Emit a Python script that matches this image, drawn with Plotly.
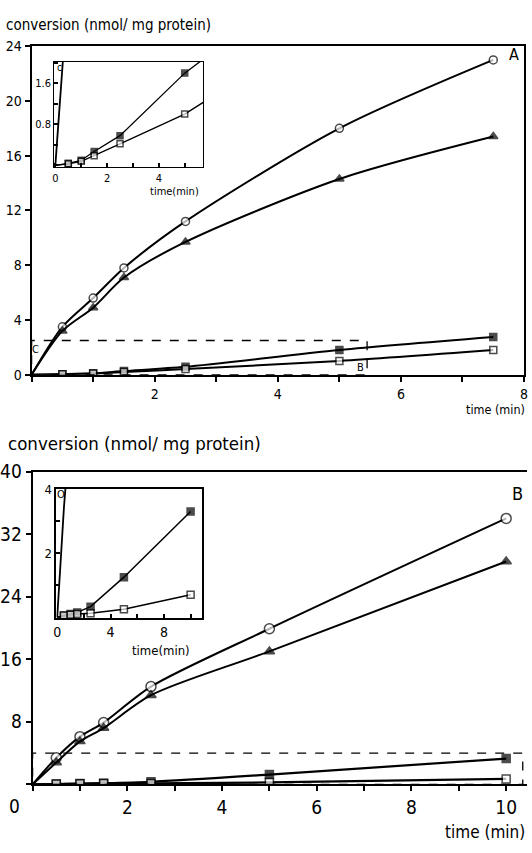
import plotly.graph_objects as go

# ---------------- data ----------------
# Panel A (main + inset share the data)
tA = [0, 0.5, 1.0, 1.5, 2.5, 5.0, 7.5]
A_circle = [0, 3.5, 5.6, 7.8, 11.2, 18.0, 23.0]
A_triangle = [0, 3.2, 4.9, 7.1, 9.7, 14.3, 17.4]
A_filled_sq = [0, 0.04, 0.1, 0.27, 0.58, 1.8, 2.75]
A_open_sq = [0, 0.03, 0.08, 0.19, 0.42, 1.0, 1.8]

# Panel B
tB = [0, 0.5, 1.0, 1.5, 2.5, 5.0, 10.0]
B_circle = [0, 3.4, 6.1, 7.9, 12.5, 19.9, 34.0]
B_triangle = [0, 2.8, 5.5, 7.2, 11.4, 17.0, 28.5]
B_filled_sq = [0, 0.05, 0.1, 0.15, 0.33, 1.25, 3.3]
B_open_sq = [0, 0.05, 0.08, 0.1, 0.12, 0.25, 0.7]

A_xticks = [0, 1, 2, 3, 4, 5, 6, 7, 8]
A_xlabels = ["", "", "2", "", "4", "", "6", "", "8"]
A_yticks = [0, 4, 8, 12, 16, 20, 24]
B_xticks = [0, 1, 2, 3, 4, 5, 6, 7, 8, 9, 10]
B_xlabels = ["", "", "2", "", "4", "", "6", "", "8", "", "10"]
B_yticks = [0, 8, 16, 24, 32, 40]
B_ylabels = ["", "8", "16", "24", "32", "40"]
Ai_xticks = [0, 1, 2, 3, 4, 5]
Ai_xlabels = ["0", "", "2", "", "4", ""]
Ai_yticks = [0, 0.4, 0.8, 1.2, 1.6, 2.0]
Ai_ylabels = ["", "", "0.8", "", "1.6", ""]
Bi_xticks = [0, 2, 4, 6, 8, 10]
Bi_xlabels = ["0", "", "4", "", "8", ""]
Bi_yticks = [0, 1, 2, 3, 4]
Bi_ylabels = ["", "", "2", "", "4"]

# ---------------- layout helpers ----------------
W, H = 532, 853
def px(x):
    return x / W
def py(y):
    return 1 - y / H

FONT = "DejaVu Sans Condensed, DejaVu Sans, sans-serif"
fig = go.Figure()

def add_series(x, y, xa, ya, symbol, filled, size, width, shape, show_markers=True):
    sizes = [0] + [size] * (len(x) - 1) if show_markers else 0
    fig.add_trace(go.Scatter(
        x=x, y=y, xaxis=xa, yaxis=ya,
        mode="lines+markers" if show_markers else "lines",
        line=dict(color="black", width=width, shape=shape, smoothing=0.8),
        marker=dict(symbol=symbol, size=sizes,
                    color="black" if filled else "white",
                    line=dict(color="black", width=1.5)),
        showlegend=False, hoverinfo="skip"))

# Panel A main
add_series(tA, A_circle, "x", "y", "circle", False, 8, 2, "spline")
add_series(tA, A_triangle, "x", "y", "triangle-up", True, 8, 2, "spline")
add_series(tA, A_filled_sq, "x", "y", "square", True, 7, 2, "spline")
add_series(tA, A_open_sq, "x", "y", "square", False, 7, 2, "spline")
# Panel A inset
add_series(tA, A_circle, "x2", "y2", "circle", False, 6, 1.8, "linear", show_markers=False)
add_series(tA, A_filled_sq, "x2", "y2", "square", True, 6, 1.3, "linear")
add_series(tA, A_open_sq, "x2", "y2", "square", False, 6, 1.3, "linear")
# Panel B main
add_series(tB, B_circle, "x3", "y3", "circle", False, 10, 2, "spline")
add_series(tB, B_triangle, "x3", "y3", "triangle-up", True, 9, 2, "spline")
add_series(tB, B_filled_sq, "x3", "y3", "square", True, 8, 2.2, "spline")
add_series(tB, B_open_sq, "x3", "y3", "square", False, 8, 2.2, "spline")
# Panel B inset
add_series(tB, B_circle, "x4", "y4", "circle", False, 6, 1.8, "linear", show_markers=False)
add_series(tB, B_filled_sq, "x4", "y4", "square", True, 7, 1.5, "linear")
add_series(tB, B_open_sq, "x4", "y4", "square", False, 7, 1.5, "linear")

def ax(domain, rng, anchor, tickvals, ticktext, size, ticks="outside", ticklen=5,
       lw=2, mirror=True):
    return dict(domain=domain, range=rng, anchor=anchor, tickmode="array",
                tickvals=tickvals, ticktext=ticktext, ticks=ticks, ticklen=ticklen,
                tickwidth=1.5, tickcolor="black", showline=True, linecolor="black",
                linewidth=lw, mirror=mirror, showgrid=False, zeroline=False,
                ticklabeloverflow="allow",
                tickfont=dict(family=FONT, size=size, color="black"), fixedrange=True)

fig.update_layout(
    width=W, height=H, margin=dict(l=0, r=0, t=0, b=0),
    paper_bgcolor="white", plot_bgcolor="white",
    font=dict(family=FONT, color="black"),
    xaxis=ax([px(29), px(528)], [0, 8], "y", A_xticks, A_xlabels, 14),
    yaxis=ax([py(372), py(36)], [0, 24], "x", A_yticks, [str(v) for v in A_yticks], 14),
    xaxis2=ax([px(52), px(203)], [-0.04, 5.72], "y2", Ai_xticks, Ai_xlabels, 11,
              ticks="inside", ticklen=4, lw=1.3),
    yaxis2=ax([py(160), py(52)], [-0.04, 2.02], "x2", Ai_yticks, Ai_ylabels, 11,
              ticks="inside", ticklen=4, lw=1.3),
    xaxis3=ax([px(30), px(531)], [0, 10.44], "y3", B_xticks, B_xlabels, 19),
    yaxis3=ax([py(791), py(471)], [0, 40], "x3", B_yticks, B_ylabels, 19, mirror=False),
    xaxis4=ax([px(54), px(202)], [-0.07, 10.88], "y4", Bi_xticks, Bi_xlabels, 14,
              ticks="inside", ticklen=4, lw=1.5),
    yaxis4=ax([py(621), py(489)], [-0.03, 4.0], "x4", Bi_yticks, Bi_ylabels, 13,
              ticks="inside", ticklen=4, lw=1.5),
)

# dashed zoom boxes
fig.add_shape(type="rect", xref="x", yref="y", x0=0, y0=0, x1=5.45, y1=2.5,
              line=dict(color="black", width=1.3, dash="dash"))
fig.add_shape(type="rect", xref="x3", yref="y3", x0=0, y0=0, x1=10.35, y1=4.0,
              line=dict(color="black", width=1.3, dash="dash"))

def note(text, x, y, size, xanchor="center"):
    fig.add_annotation(text=text, x=px(x), y=py(y), xref="paper", yref="paper",
                       xanchor=xanchor, yanchor="middle", showarrow=False,
                       font=dict(family=FONT, size=size, color="black"))

note("conversion (nmol/ mg protein)", 1, 14, 15, "left")
note("conversion (nmol/ mg protein)", 3, 442, 18.5, "left")
note("time (min)", 531, 408, 12.5, "right")
note("time (min)", 531, 840, 17, "right")
note("0", 12, 813, 19)
note("A", 518, 45, 16)
note("B", 521, 493, 18)
note("C", 33, 346, 11)
note("B", 362, 365, 11)
note("c", 57, 58, 10)
note("O", 59, 495, 11)
note("time(min)", 174, 185, 11)
note("time(min)", 160, 654, 13)

fig.write_html("out.html", config={"displayModeBar": False},
               post_script="document.body.style.margin='0';document.body.style.overflow='hidden';")
